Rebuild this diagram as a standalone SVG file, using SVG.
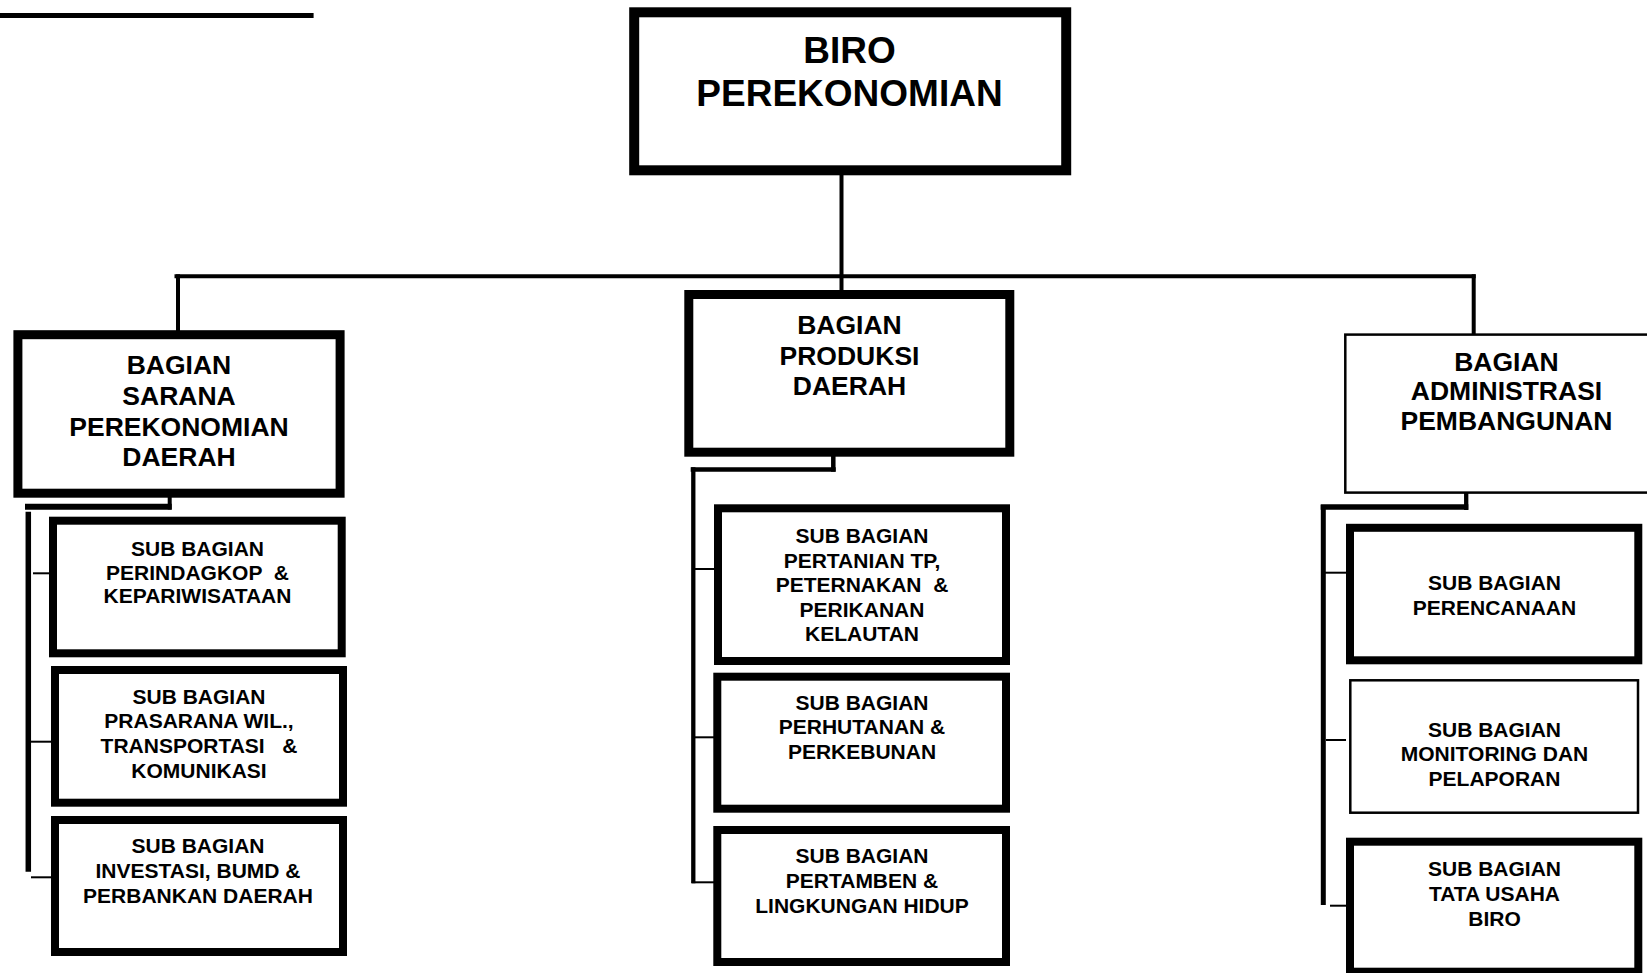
<svg xmlns="http://www.w3.org/2000/svg" width="1647" height="973" viewBox="0 0 1647 973">
<style>
.box{fill:#fff;stroke:#000}
.b10{stroke-width:10}
.b9{stroke-width:9}
.b8{stroke-width:8}
.thin{stroke-width:2.5}
text{font-family:"Liberation Sans",Arial,Helvetica,sans-serif;font-weight:bold;text-anchor:middle;fill:#000}
.t1{font-size:37px}
.t2{font-size:26.5px}
.t3{font-size:21px}
.ln{stroke:#000;fill:none}
</style>
<rect width="1647" height="973" fill="#fff"/>
<g id="connectors">
<line class="ln" x1="0" y1="15.5" x2="313.6" y2="15.5" stroke-width="5"/>
<line class="ln" x1="841.5" y1="175" x2="841.5" y2="290" stroke-width="4"/>
<line class="ln" x1="174.5" y1="276.3" x2="1475.7" y2="276.3" stroke-width="4"/>
<line class="ln" x1="178" y1="274.3" x2="178" y2="331" stroke-width="4"/>
<line class="ln" x1="1473.7" y1="274.3" x2="1473.7" y2="334" stroke-width="4"/>
<line class="ln" x1="169.7" y1="496" x2="169.7" y2="509.5" stroke-width="4"/>
<line class="ln" x1="25" y1="506.7" x2="171.7" y2="506.7" stroke-width="6"/>
<line class="ln" x1="28.3" y1="511.7" x2="28.3" y2="871.7" stroke-width="5.5"/>
<line class="ln" x1="33" y1="573.3" x2="50" y2="573.3" stroke-width="2"/>
<line class="ln" x1="31" y1="741.7" x2="51" y2="741.7" stroke-width="2"/>
<line class="ln" x1="31" y1="877.3" x2="51" y2="877.3" stroke-width="2"/>
<line class="ln" x1="833.3" y1="456" x2="833.3" y2="471.7" stroke-width="4.5"/>
<line class="ln" x1="690.7" y1="469.5" x2="835.7" y2="469.5" stroke-width="4.3"/>
<line class="ln" x1="693.3" y1="467.3" x2="693.3" y2="883.3" stroke-width="4.3"/>
<line class="ln" x1="695" y1="569" x2="714" y2="569" stroke-width="2"/>
<line class="ln" x1="695" y1="737.3" x2="714" y2="737.3" stroke-width="2"/>
<line class="ln" x1="691.7" y1="882.3" x2="714" y2="882.3" stroke-width="2"/>
<line class="ln" x1="1466.2" y1="493" x2="1466.2" y2="510" stroke-width="4.3"/>
<line class="ln" x1="1320.7" y1="507" x2="1468.3" y2="507" stroke-width="5.5"/>
<line class="ln" x1="1323.3" y1="505" x2="1323.3" y2="905" stroke-width="5"/>
<line class="ln" x1="1325" y1="572.7" x2="1346" y2="572.7" stroke-width="2"/>
<line class="ln" x1="1326" y1="740" x2="1346" y2="740" stroke-width="2"/>
<line class="ln" x1="1330" y1="905.7" x2="1346" y2="905.7" stroke-width="2"/>
</g>
<g id="biro">
<rect class="box b10" x="634.2" y="12.3" width="432" height="158"/>
<text class="t1" x="849.5" y="62.7">BIRO</text>
<text class="t1" x="849.5" y="106">PEREKONOMIAN</text>
</g>
<g id="bagian-sarana">
<rect class="box b9" x="17.9" y="334.7" width="322.2" height="158.5"/>
<text class="t2" x="179" y="374">BAGIAN</text>
<text class="t2" x="179" y="405">SARANA</text>
<text class="t2" x="179" y="436">PEREKONOMIAN</text>
<text class="t2" x="179" y="466">DAERAH</text>
</g>
<g id="bagian-produksi">
<rect class="box b9" x="688.8" y="294.5" width="321" height="157.7"/>
<text class="t2" x="849.5" y="334.3">BAGIAN</text>
<text class="t2" x="849.5" y="365">PRODUKSI</text>
<text class="t2" x="849.5" y="395">DAERAH</text>
</g>
<g id="bagian-administrasi">
<rect class="box thin" x="1345.3" y="334.6" width="400" height="158"/>
<text class="t2" x="1506.5" y="370.7">BAGIAN</text>
<text class="t2" x="1506.5" y="400">ADMINISTRASI</text>
<text class="t2" x="1506.5" y="430">PEMBANGUNAN</text>
</g>
<g id="sub-perindagkop">
<rect class="box b8" x="53" y="520.7" width="288.7" height="132.6"/>
<text class="t3" x="197.5" y="555.7">SUB BAGIAN</text>
<text class="t3" x="197.5" y="580" xml:space="preserve">PERINDAGKOP  &amp;</text>
<text class="t3" x="197.5" y="603.3">KEPARIWISATAAN</text>
</g>
<g id="sub-prasarana">
<rect class="box b8" x="55" y="670" width="288" height="132.7"/>
<text class="t3" x="199" y="704.3">SUB BAGIAN</text>
<text class="t3" x="199" y="728">PRASARANA WIL.,</text>
<text class="t3" x="199" y="753.3" xml:space="preserve">TRANSPORTASI   &amp;</text>
<text class="t3" x="199" y="778.3">KOMUNIKASI</text>
</g>
<g id="sub-investasi">
<rect class="box b8" x="55" y="820" width="288" height="132"/>
<text class="t3" x="198" y="853.3">SUB BAGIAN</text>
<text class="t3" x="198" y="878.3">INVESTASI, BUMD &amp;</text>
<text class="t3" x="198" y="903">PERBANKAN DAERAH</text>
</g>
<g id="sub-pertanian">
<rect class="box b8" x="718" y="508.3" width="288" height="152.7"/>
<text class="t3" x="862" y="542.7">SUB BAGIAN</text>
<text class="t3" x="862" y="567.7">PERTANIAN TP,</text>
<text class="t3" x="862" y="591.7" xml:space="preserve">PETERNAKAN  &amp;</text>
<text class="t3" x="862" y="616.7">PERIKANAN</text>
<text class="t3" x="862" y="640.7">KELAUTAN</text>
</g>
<g id="sub-perhutanan">
<rect class="box b8" x="717.3" y="676.7" width="288.7" height="132"/>
<text class="t3" x="862" y="710">SUB BAGIAN</text>
<text class="t3" x="862" y="734.3">PERHUTANAN &amp;</text>
<text class="t3" x="862" y="759">PERKEBUNAN</text>
</g>
<g id="sub-pertamben">
<rect class="box b8" x="717.3" y="830" width="288.7" height="132"/>
<text class="t3" x="862" y="863.3">SUB BAGIAN</text>
<text class="t3" x="862" y="888.3">PERTAMBEN &amp;</text>
<text class="t3" x="862" y="913">LINGKUNGAN HIDUP</text>
</g>
<g id="sub-perencanaan">
<rect class="box b8" x="1350" y="527.8" width="288.3" height="132.5"/>
<text class="t3" x="1494.5" y="590">SUB BAGIAN</text>
<text class="t3" x="1494.5" y="615">PERENCANAAN</text>
</g>
<g id="sub-monitoring">
<rect class="box thin" x="1350.3" y="680.3" width="287.7" height="132.4"/>
<text class="t3" x="1494.5" y="736.7">SUB BAGIAN</text>
<text class="t3" x="1494.5" y="761">MONITORING DAN</text>
<text class="t3" x="1494.5" y="785.7">PELAPORAN</text>
</g>
<g id="sub-tata-usaha">
<rect class="box b8" x="1350" y="841.7" width="288.3" height="130"/>
<text class="t3" x="1494.5" y="875.7">SUB BAGIAN</text>
<text class="t3" x="1494.5" y="900.7">TATA USAHA</text>
<text class="t3" x="1494.5" y="925.7">BIRO</text>
</g>
</svg>
